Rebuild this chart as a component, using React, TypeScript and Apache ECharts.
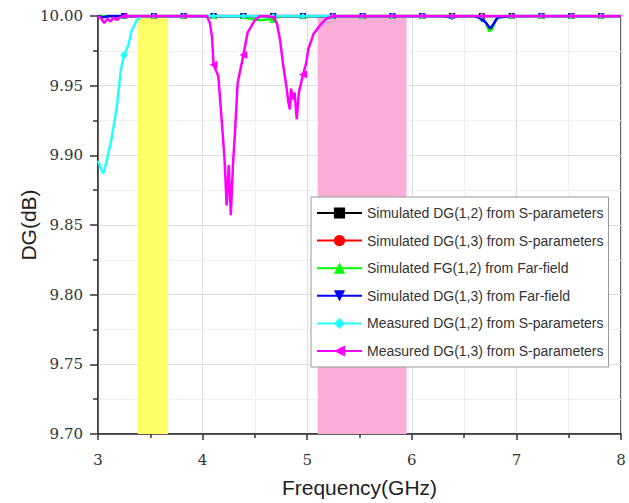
import React, { useEffect, useRef } from "react";
import * as echarts from "echarts";

// Frequencies (GHz) where the curve markers sit
const markerFreqs = [3.25, 3.535, 3.82, 4.105, 4.39, 4.675, 4.96, 5.245, 5.53, 5.815, 6.1, 6.385, 6.67, 6.955, 7.24, 7.525, 7.81];

// Highlighted bands (GHz)
const yellowBand = [3.38, 3.67];
const pinkBand = [5.1, 5.95];

// Series: [frequency GHz, DG dB]
const simDG12S = [
  [3, 10], [3.25, 10], [3.535, 10], [3.82, 10], [4.105, 10], [4.39, 10], [4.675, 10], [4.96, 10], [5.245, 10],
  [5.53, 10], [5.815, 10], [6.1, 10], [6.385, 10], [6.67, 10], [6.955, 10], [7.24, 10], [7.525, 10], [7.81, 10], [8, 10],
];
const simDG13S = [
  [3, 10], [3.25, 10], [3.535, 10], [3.82, 10], [4.105, 10], [4.39, 10], [4.675, 10], [4.96, 10], [5.245, 10],
  [5.53, 10], [5.815, 10], [6.1, 10], [6.385, 10], [6.67, 10], [6.955, 10], [7.24, 10], [7.525, 10], [7.81, 10], [8, 10],
];
const simFG12F = [
  [3, 10], [3.25, 10], [3.535, 10], [3.82, 10], [4.105, 10], [4.39, 10], [4.45, 9.998], [4.55, 9.997], [4.675, 9.998],
  [4.75, 10], [4.96, 10], [5.245, 10], [5.53, 10], [5.815, 10], [6.1, 10], [6.385, 10], [6.6, 10], [6.67, 9.999],
  [6.71, 9.995], [6.74, 9.989], [6.77, 9.991], [6.8, 9.997], [6.85, 10], [6.955, 10], [7.24, 10], [7.525, 10], [7.81, 10], [8, 10],
];
const simDG13F = [
  [3, 10], [3.05, 9.999], [3.1, 10], [3.25, 10], [3.535, 10], [3.82, 10], [4.105, 10], [4.39, 10], [4.675, 10], [4.96, 10],
  [5.245, 10], [5.53, 10], [5.815, 10], [6.1, 10], [6.3, 10], [6.385, 9.999], [6.45, 10], [6.6, 10], [6.67, 9.998],
  [6.71, 9.995], [6.75, 9.991], [6.78, 9.994], [6.82, 9.999], [6.955, 10], [7.24, 10], [7.525, 10], [7.81, 10], [8, 10],
];
const measDG12S = [
  [3, 9.896], [3.03, 9.89], [3.05, 9.887], [3.08, 9.895], [3.13, 9.912], [3.18, 9.935], [3.22, 9.962], [3.25, 9.972],
  [3.29, 9.979], [3.32, 9.989], [3.37, 9.997], [3.41, 10], [3.535, 10], [3.82, 10], [4.105, 10], [4.39, 10], [4.675, 10],
  [4.96, 10], [5.245, 10], [5.53, 10], [5.815, 10], [6.1, 10], [6.385, 10], [6.67, 10], [6.955, 10], [7.24, 10],
  [7.525, 10], [7.81, 10], [8, 10],
];
const measDG13S = [
  [3, 10], [3.03, 9.998], [3.06, 9.995], [3.09, 9.998], [3.12, 9.996], [3.15, 9.999], [3.18, 9.997], [3.21, 9.999],
  [3.25, 10], [3.535, 10], [3.82, 10], [4.04, 10], [4.07, 9.995], [4.09, 9.985], [4.105, 9.965], [4.15, 9.957],
  [4.18, 9.928], [4.21, 9.897], [4.23, 9.864], [4.25, 9.893], [4.27, 9.857], [4.29, 9.893], [4.31, 9.917],
  [4.335, 9.952], [4.39, 9.972], [4.43, 9.988], [4.5, 9.997], [4.55, 10], [4.62, 10], [4.675, 9.999], [4.71, 9.995],
  [4.74, 9.983], [4.77, 9.965], [4.8, 9.95], [4.82, 9.938], [4.835, 9.933], [4.845, 9.948], [4.865, 9.94],
  [4.88, 9.945], [4.9, 9.926], [4.92, 9.945], [4.96, 9.958], [4.99, 9.966], [5.01, 9.976], [5.06, 9.987],
  [5.12, 9.993], [5.18, 9.998], [5.245, 10], [5.53, 10], [5.815, 10], [6.1, 10], [6.385, 10], [6.67, 10],
  [6.955, 10], [7.24, 10], [7.525, 10], [7.81, 10], [8, 10],
];

const seriesNames = [
  "Simulated DG(1,2) from S-parameters",
  "Simulated DG(1,3) from S-parameters",
  "Simulated FG(1,2) from Far-field",
  "Simulated DG(1,3) from Far-field",
  "Measured DG(1,2) from S-parameters",
  "Measured DG(1,3) from S-parameters",
];
const seriesData = [simDG12S, simDG13S, simFG12F, simDG13F, measDG12S, measDG13S];
const seriesColors = ["#000000", "#ff0000", "#00ff00", "#0000ff", "#22ffff", "#ff00ff"];
const seriesSymbols = ["rect", "circle", "triangle", "triangle", "diamond", "triangle"];
const seriesRotate = [0, 0, 0, 180, 0, 90];

export default function App() {
  const ref = useRef<HTMLDivElement>(null);
  useEffect(() => {
    const chart = echarts.init(ref.current!, undefined, { renderer: "svg" });
    const isMarker = (v: number[]) => markerFreqs.some((m) => Math.abs(m - v[0]) < 1e-6);
    const series: any[] = seriesNames.map((name, i) => ({
      name,
      type: "line",
      data: seriesData[i],
      color: seriesColors[i],
      lineStyle: { width: 2.5, color: seriesColors[i] },
      itemStyle: { color: seriesColors[i] },
      symbol: seriesSymbols[i],
      symbolRotate: seriesRotate[i],
      showSymbol: true,
      showAllSymbol: true,
      symbolSize: (v: number[]) => (isMarker(v) ? (v[1] < 9.999 ? 8 : 6) : 0),
      z: 3 + i,
    }));
    series[0].markArea = {
      silent: true,
      data: [
        [{ xAxis: yellowBand[0], itemStyle: { color: "#ffff66", opacity: 1 } }, { xAxis: yellowBand[1] }],
        [{ xAxis: pinkBand[0], itemStyle: { color: "#fcaed8", opacity: 1 } }, { xAxis: pinkBand[1] }],
      ],
    };
    chart.setOption({
      animation: false,
      backgroundColor: "#ffffff",
      grid: { left: 98, right: 8, top: 16, bottom: 65, show: true, borderColor: "#333", borderWidth: 1.5, backgroundColor: "transparent" },
      legend: {
        orient: "vertical",
        left: 311,
        top: 197,
        itemWidth: 45,
        itemHeight: 14,
        itemGap: 13.6,
        padding: [9, 5, 9, 5],
        borderColor: "#999",
        borderWidth: 1,
        backgroundColor: "#ffffff",
        textStyle: { fontFamily: "Liberation Sans", fontSize: 14, color: "#333" },
        data: seriesNames,
      },
      xAxis: {
        type: "value",
        min: 3,
        max: 8,
        interval: 1,
        name: "Frequency(GHz)",
        nameLocation: "middle",
        nameGap: 43,
        nameMoveOverlap: false,
        nameTextStyle: { fontFamily: "Liberation Sans", fontSize: 21, color: "#222" },
        axisLine: { lineStyle: { color: "#333", width: 1.5 } },
        axisTick: { show: true, length: 6, lineStyle: { color: "#333", width: 1.5 } },
        minorTick: { show: true, splitNumber: 2, length: 4, lineStyle: { color: "#333", width: 1.5 } },
        axisLabel: { fontFamily: "DejaVu Serif", fontSize: 15, color: "#333", margin: 18 },
        splitLine: { show: true, lineStyle: { color: "#dedede", width: 1 } },
        minorSplitLine: { show: true, lineStyle: { color: "#e4e4e4", width: 1, type: "dotted" } },
      },
      yAxis: {
        type: "value",
        min: 9.7,
        max: 10,
        interval: 0.05,
        name: "DG(dB)",
        nameLocation: "middle",
        nameGap: 59,
        nameMoveOverlap: false,
        nameTextStyle: { fontFamily: "Liberation Sans", fontSize: 21, color: "#222" },
        axisLine: { show: true, lineStyle: { color: "#333", width: 1.5 } },
        axisTick: { show: true, length: 8, lineStyle: { color: "#333", width: 1.5 } },
        minorTick: { show: true, splitNumber: 2, length: 5, lineStyle: { color: "#333", width: 1.5 } },
        axisLabel: { fontFamily: "DejaVu Serif", fontSize: 15, color: "#333", margin: 15, formatter: (v: number) => v.toFixed(2) },
        splitLine: { show: true, lineStyle: { color: "#dedede", width: 1 } },
        minorSplitLine: { show: true, lineStyle: { color: "#e4e4e4", width: 1, type: "dotted" } },
      },
      series,
    });
    return () => chart.dispose();
  }, []);
  return <div ref={ref} style={{ width: 629, height: 503, position: "absolute", left: 0, top: 0 }} />;
}
